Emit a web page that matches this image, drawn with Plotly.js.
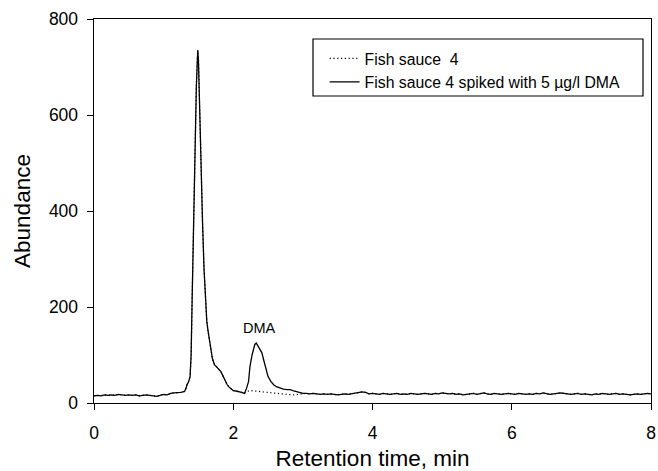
<!DOCTYPE html>
<html>
<head>
<meta charset="utf-8">
<script src="https://cdn.plot.ly/plotly-3.0.1.min.js"></script>
<style>html,body{margin:0;padding:0;background:#fff;}#chart{width:658px;height:471px;}</style>
</head>
<body>
<div id="chart"></div>
<script>
// Common part before the DMA region (retention time, min / abundance)
const preTime = [0, 0.05, 0.1, 0.15, 0.2, 0.25, 0.3, 0.35, 0.4, 0.45, 0.5, 0.55, 0.6, 0.65, 0.7, 0.75, 0.8, 0.85, 0.9, 0.95, 1.0, 1.05, 1.1, 1.15, 1.2, 1.25, 1.3,
  1.32, 1.34, 1.355, 1.38, 1.395, 1.41, 1.43, 1.45, 1.47, 1.49, 1.50, 1.52, 1.54, 1.56, 1.58, 1.60, 1.62, 1.64, 1.67, 1.70, 1.73, 1.76, 1.79, 1.82, 1.85, 1.88, 1.91, 1.94, 1.97, 2.00, 2.04, 2.08, 2.12, 2.16];
const preValues = [15, 16, 15, 17, 16, 17, 16, 18, 17, 16, 17, 16, 17, 15, 16, 17, 16, 15, 14, 16, 18, 17, 20, 21, 21, 22, 24,
  30, 40, 43, 55, 100, 220, 390, 540, 660, 735, 715, 600, 470, 370, 280, 205, 170, 148, 118, 93, 80, 75, 71, 66, 57, 47, 39, 33, 29, 26, 25, 24, 22, 20];

// DMA region, spiked sample
const dmaTimeSpiked = [2.19, 2.22, 2.24, 2.27, 2.29, 2.31, 2.33, 2.35, 2.38, 2.41, 2.44, 2.47, 2.50, 2.54, 2.58, 2.62, 2.67, 2.72, 2.77, 2.82, 2.87, 2.91, 2.96, 3.00];
const dmaSpiked = [30, 45, 76, 100, 114, 122, 125, 120, 113, 105, 88, 70, 55, 45, 38, 34, 31, 29, 28, 28, 25, 23, 21, 20];

// DMA region, unspiked sample
const dmaTimeFish = [2.20, 2.24, 2.30, 2.36, 2.42, 2.48, 2.54, 2.60, 2.66, 2.72, 2.80, 2.88, 2.96, 3.00];
const dmaFish = [24, 26, 25, 24, 23, 22, 21, 20, 19, 18, 17.5, 17, 18, 20];

// Common baseline after the DMA region
const postTime = [3.05, 3.10, 3.15, 3.20, 3.25, 3.30, 3.35, 3.40, 3.45, 3.50, 3.55, 3.60, 3.65, 3.70, 3.75, 3.80, 3.85, 3.90, 3.95, 4.00,
  4.05, 4.10, 4.15, 4.20, 4.25, 4.30, 4.35, 4.40, 4.45, 4.50, 4.55, 4.60, 4.65, 4.70, 4.75, 4.80, 4.85, 4.90, 4.95, 5.00,
  5.05, 5.10, 5.15, 5.20, 5.25, 5.30, 5.35, 5.40, 5.45, 5.50, 5.55, 5.60, 5.65, 5.70, 5.75, 5.80, 5.85, 5.90, 5.95, 6.00,
  6.05, 6.10, 6.15, 6.20, 6.25, 6.30, 6.35, 6.40, 6.45, 6.50, 6.55, 6.60, 6.65, 6.70, 6.75, 6.80, 6.85, 6.90, 6.95, 7.00,
  7.05, 7.10, 7.15, 7.20, 7.25, 7.30, 7.35, 7.40, 7.45, 7.50, 7.55, 7.60, 7.65, 7.70, 7.75, 7.80, 7.85, 7.90, 7.95, 8.00];
const postValues = [20, 19, 20, 19, 18, 19, 18, 19, 18, 17, 18, 19, 18, 19, 20, 21, 23, 22, 19, 20,
  19, 18, 20, 19, 18, 19, 20, 18, 19, 18, 20, 19, 18, 19, 20, 19, 18, 20, 19, 21,
  20, 19, 20, 18, 19, 17, 18, 19, 20, 18, 19, 21, 19, 18, 20, 19, 18, 19, 20, 19,
  18, 20, 19, 18, 19, 18, 20, 19, 21, 20, 18, 19, 20, 21, 20, 19, 18, 19, 20, 18,
  19, 18, 17, 19, 18, 20, 19, 18, 19, 20, 18, 19, 18, 17, 18, 19, 18, 19, 20, 19];

const seriesNames = ["Fish sauce\u00a0\u00a04", "Fish sauce 4 spiked with 5 \u00b5g/l DMA"];
const xTicks = [0, 2, 4, 6, 8];
const yTicks = [0, 200, 400, 600, 800];

const fishX = preTime.concat(dmaTimeFish, postTime);
const fishY = preValues.concat(dmaFish, postValues);
const spikedX = preTime.concat(dmaTimeSpiked, postTime);
const spikedY = preValues.concat(dmaSpiked, postValues);

const font = "Liberation Sans, Arial, Helvetica, sans-serif";

const traces = [
  {x: fishX, y: fishY, type: "scatter", mode: "lines", name: seriesNames[0],
   line: {color: "#000", width: 1.2, dash: "1.2px,2.6px"}},
  {x: spikedX, y: spikedY, type: "scatter", mode: "lines", name: seriesNames[1],
   line: {color: "#000", width: 1.3}}
];

const layout = {
  width: 658, height: 471,
  margin: {l: 94, r: 7, t: 19, b: 68},
  paper_bgcolor: "#fff", plot_bgcolor: "#fff",
  font: {family: font, color: "#000", size: 16},
  showlegend: true,
  legend: {x: 0.414, y: 0.941, xanchor: "left", yanchor: "top",
    bgcolor: "rgba(0,0,0,0)", borderwidth: 0, font: {family: font, size: 15.8, color: "#000"},
    tracegroupgap: 0},
  xaxis: {range: [0, 8], tickvals: xTicks, ticktext: xTicks.map(String),
    showgrid: false, zeroline: false, showline: true, mirror: true, linecolor: "#000", linewidth: 1.4,
    ticks: "outside", ticklen: 6, tickwidth: 1, tickcolor: "#000", ticklabelstandoff: 8,
    tickfont: {family: font, size: 17.5},
    title: {text: "Retention time, min", font: {family: font, size: 22.5}, standoff: 9}},
  yaxis: {range: [0, 800], tickvals: yTicks, ticktext: yTicks.map(String),
    showgrid: false, zeroline: false, showline: true, mirror: true, linecolor: "#000", linewidth: 1.4,
    ticks: "outside", ticklen: 6, tickwidth: 1, tickcolor: "#000", ticklabelstandoff: 5,
    tickfont: {family: font, size: 17.5},
    title: {text: "Abundance", font: {family: font, size: 22.5}, standoff: 12}},
  shapes: [
    {type: "rect", xref: "paper", yref: "paper",
     x0: (313 - 94) / 557, x1: (643 - 94) / 557, y0: (403 - 96) / 384, y1: (403 - 39) / 384,
     line: {color: "#000", width: 1.2}, fillcolor: "rgba(0,0,0,0)", layer: "above"}
  ],
  annotations: [
    {x: 2.375, y: 156, xref: "x", yref: "y", text: "DMA", showarrow: false,
     font: {family: font, size: 14.5, color: "#000"}}
  ]
};

Plotly.newPlot("chart", traces, layout, {displayModeBar: false, staticPlot: true});
</script>
</body>
</html>
